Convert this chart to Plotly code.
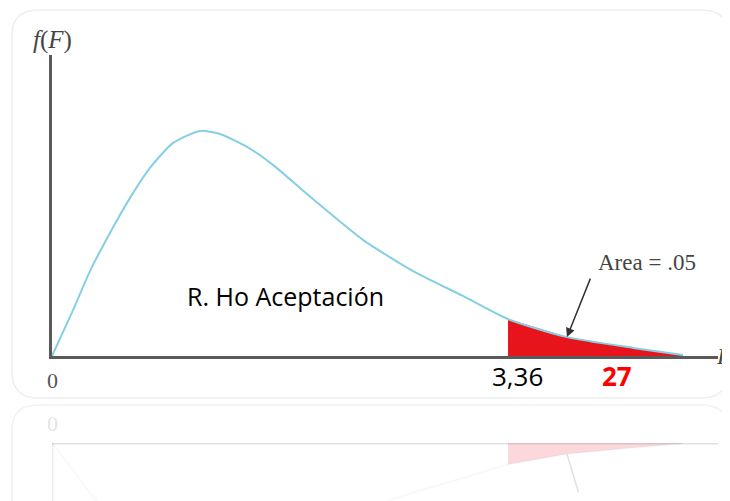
import plotly.graph_objects as go

# curve of f(F) (F units, density units)
f_vals = [0.0, 0.155, 0.28, 0.427, 0.575, 0.722, 0.892, 1.09, 1.238, 1.437, 1.628,
          1.827, 1.975, 2.291, 2.66, 3.028, 3.36, 3.794, 4.281, 4.649]
dens = [0.0, 0.153, 0.283, 0.41, 0.527, 0.627, 0.71, 0.75, 0.74, 0.697, 0.637,
        0.56, 0.503, 0.387, 0.283, 0.2, 0.123, 0.063, 0.027, 0.003]
f_crit = 3.36
crit_label = "3,36"
f_stat_label = "27"
area_label = "Area = .05"
region_label = "R. Ho Aceptación"

x_max = 4.907
y_max = 1.003

tail_x = [x for x in f_vals if x >= f_crit]
tail_y = [y for x, y in zip(f_vals, dens) if x >= f_crit]

curve_color = "#86cfe3"
red = "#e8141c"
axis_color = "#5a5a5a"
serif = "Liberation Serif"
sans = "Open Sans"

fig = go.Figure()

# red rejection area
fig.add_trace(go.Scatter(x=tail_x, y=tail_y, mode="lines", fill="tozeroy",
                         fillcolor=red, line=dict(color=red, width=0),
                         hoverinfo="skip"))
# density curve
fig.add_trace(go.Scatter(x=f_vals, y=dens, mode="lines", line_shape="spline",
                         line=dict(color=curve_color, width=2, smoothing=0.6),
                         hoverinfo="skip"))

# faint reflection underneath (y2 is flipped)
fig.add_trace(go.Scatter(x=tail_x, y=tail_y, mode="lines", fill="tozeroy",
                         fillcolor="rgba(240,60,80,0.2)", line=dict(width=0),
                         yaxis="y2", hoverinfo="skip"))
fig.add_trace(go.Scatter(x=f_vals, y=dens, mode="lines", line_shape="spline",
                         line=dict(color="rgba(180,200,210,0.1)", width=2, smoothing=0.6),
                         yaxis="y2", hoverinfo="skip"))
fig.add_trace(go.Scatter(x=[0, x_max], y=[0, 0], mode="lines",
                         line=dict(color="rgba(90,90,90,0.18)", width=3),
                         yaxis="y2", hoverinfo="skip"))
fig.add_trace(go.Scatter(x=[0, 0], y=[0, 0.331], mode="lines",
                         line=dict(color="rgba(90,90,90,0.1)", width=3),
                         yaxis="y2", hoverinfo="skip"))

fig.add_annotation(x=0, y=y_max, text="<i>f</i>(<i>F</i>)", showarrow=False,
                   xanchor="center", yanchor="middle", yshift=15,
                   font=dict(family=serif, size=25, color="#444"))
fig.add_annotation(x=x_max, y=0, text="<i>F</i>", showarrow=False,
                   xanchor="left", yanchor="middle", xshift=-4,
                   font=dict(family=serif, size=24, color="#444"))
fig.add_annotation(x=0, y=0, text="0", showarrow=False, yanchor="middle", yshift=-24,
                   font=dict(family=serif, size=22, color="#555"))
fig.add_annotation(x=0, y=0, yref="y2", text="0", showarrow=False,
                   yanchor="middle", yshift=20,
                   font=dict(family=serif, size=22, color="rgba(85,85,85,0.18)"))
fig.add_annotation(x=f_crit, y=0, text=crit_label, showarrow=False,
                   xanchor="center", yanchor="middle", xshift=9, yshift=-20,
                   font=dict(family=sans, size=26, color="black"))
fig.add_annotation(x=f_crit, y=0, text="<b>" + f_stat_label + "</b>", showarrow=False,
                   xanchor="center", yanchor="middle", xshift=109, yshift=-20,
                   font=dict(family=sans, size=26, color="#ff0000"))
fig.add_annotation(x=1.717, y=0.2, text=region_label, showarrow=False,
                   xanchor="center", yanchor="middle",
                   font=dict(family=sans, size=25, color="black"))
fig.add_annotation(x=3.794, y=0.063, text="", showarrow=True,
                   ax=24, ay=-60, arrowhead=2, arrowsize=1.2, arrowwidth=1.5,
                   arrowcolor="#333")
fig.add_annotation(x=3.794, y=0.063, yref="y2", text="", showarrow=True,
                   ax=12, ay=40, arrowhead=0, arrowwidth=1.5,
                   arrowcolor="rgba(60,60,60,0.15)")
fig.add_annotation(x=3.794, y=0.063, text=area_label, showarrow=False,
                   xanchor="center", yanchor="middle", xshift=80, yshift=75,
                   font=dict(family=serif, size=23, color="#444"))

# faint rounded frames (paper coords: plot area spans the whole height)
fig.add_shape(type="path", xref="paper", yref="paper",
              path="M -0.06 1.045 Q -0.06 1.101 -0.02 1.101 L 0.975 1.101 "
                   "Q 1.015 1.101 1.015 1.045 L 1.015 0.29 Q 1.015 0.231 0.975 0.231 "
                   "L -0.02 0.231 Q -0.06 0.231 -0.06 0.29 Z",
              line=dict(color="#eeeeee", width=1.5), layer="below")
fig.add_shape(type="path", xref="paper", yref="paper",
              path="M -0.06 0.0 L -0.06 0.16 Q -0.06 0.215 -0.02 0.215 L 0.975 0.215 "
                   "Q 1.015 0.215 1.015 0.16 L 1.015 0.0",
              line=dict(color="#f2f2f2", width=1.5), layer="below")

# page body has an 8px margin, so the figure is 8px smaller and margins shifted
fig.update_layout(
    width=722, height=493,
    margin=dict(l=44, r=12, t=47, b=0),
    paper_bgcolor="white", plot_bgcolor="white",
    showlegend=False,
    xaxis=dict(range=[0, x_max], showgrid=False, zeroline=False, showticklabels=False,
               showline=True, linecolor=axis_color, linewidth=3, ticks=""),
    yaxis=dict(range=[0, y_max], domain=[0.3251, 1], showgrid=False, zeroline=False,
               showticklabels=False, showline=True, linecolor=axis_color,
               linewidth=3, ticks=""),
    yaxis2=dict(range=[0.331, 0], domain=[0, 0.130], showgrid=False, zeroline=False,
                showticklabels=False, showline=False, anchor="x"),
)

fig.write_html("out.html")
